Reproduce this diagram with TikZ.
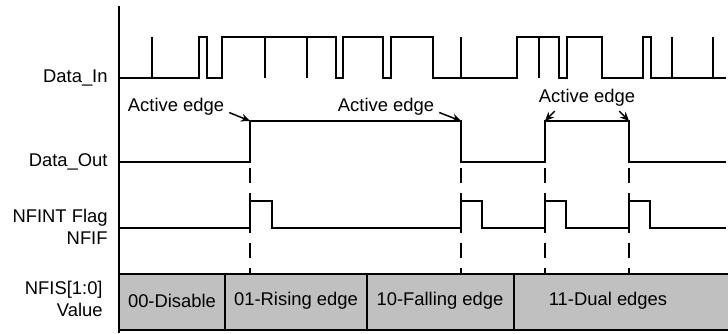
\documentclass[tikz,border=0pt]{standalone}
\usepackage{fontspec}
\setmainfont{Liberation Sans}
\usepackage{xcolor}
\definecolor{cLine}{HTML}{000000}
\definecolor{cFill}{HTML}{C0C0C0}
\usepackage{tikz}
\usetikzlibrary{arrows.meta}
\newcommand{\sigfont}{\fontsize{9.2}{11}\selectfont}
\tikzset{
  sig-line/.style={draw=cLine,line width=1pt,line join=miter},
  axis-line/.style={draw=cLine,line width=1pt},
  edge-mark/.style={draw=cLine,line width=1pt,
    dash pattern=on 7.5pt off 5pt,dash phase=9.5pt},
  seg-box/.style={draw=cLine,line width=1pt,fill=cFill},
  seg-text/.style={font=\sigfont,inner sep=1pt},
  sig-name/.style={anchor=east,align=right,inner sep=0pt,font=\sigfont},
  note/.style={font=\sigfont,inner sep=1pt},
  arrow/.style={-{Stealth[length=4.5pt,width=4pt]},line width=0.75pt,
    draw=cLine,shorten <=1.5pt},
}

\begin{document}
\begin{tikzpicture}[x=0.5pt,y=-0.5pt]
  \useasboundingbox (0,0) rectangle (728,333);
  % signal names
  \node[sig-name] (nIn)   at (108,78)  {Data\_In};
  \node[sig-name] (nOut)  at (108,162) {Data\_Out};
  \node[sig-name] (nFlag) at (108,227) {NFINT Flag\\NFIF};
  \node[sig-name] (nSel)  at (103,299) {NFIS[1:0]\\Value};
  \draw[axis-line] (119,6) -- (119,333);
  % Data_In
  \draw[sig-line] (119,78) -- (199,78) -- (199,37) -- (207,37) -- (207,78)
    -- (222,78) -- (222,37) -- (336,37) -- (336,78) -- (343,78) -- (343,37)
    -- (383,37) -- (383,78) -- (391,78) -- (391,37) -- (433,37) -- (433,78)
    -- (517,78) -- (517,37) -- (559,37) -- (559,78) -- (567,78) -- (567,37)
    -- (602,37) -- (602,78) -- (643,78) -- (643,37) -- (651,37) -- (651,78)
    -- (726,78);
  \foreach \x in {152,461,672,713}
    \draw[sig-line] (\x,78) -- (\x,37);
  \foreach \x in {265,307,539}
    \draw[sig-line] (\x,37) -- (\x,78);
  % Data_Out
  \draw[sig-line] (119,162) -- (250,162) -- (250,121) -- (461,121) -- (461,162)
    -- (545,162) -- (545,121) -- (629,121) -- (629,162) -- (726,162);
  \coordinate (e1) at (250,121);
  \coordinate (e2) at (461,121);
  \coordinate (e3) at (545,121);
  \coordinate (e4) at (629,121);
  \node[note] (ae1) at (176,107) {Active edge};
  \node[note] (ae2) at (386,107) {Active edge};
  \node[note] (ae3) at (587,98)  {Active edge};
  \draw[arrow] (ae1.-5) -- (e1);
  \draw[arrow] (ae2.-5) -- (e2);
  \draw[arrow] (ae3.200) -- (e3);
  \draw[arrow] (ae3.340) -- (e4);
  % edge markers
  \foreach \x in {250,461,545,629}
    \draw[edge-mark] (\x,162) -- (\x,274);
  % NFIF
  \draw[sig-line] (119,228) -- (250,228) -- (250,201) -- (272,201) -- (272,228)
    -- (461,228) -- (461,201) -- (482,201) -- (482,228)
    -- (545,228) -- (545,201) -- (566,201) -- (566,228)
    -- (629,228) -- (629,201) -- (650,201) -- (650,228) -- (726,228);
  % NFIS value
  \draw[seg-box] (119,274) rectangle (225,330);
  \draw[seg-box] (225,274) rectangle (367,330);
  \draw[seg-box] (367,274) rectangle (514,330);
  \draw[seg-box] (514,274) rectangle (740,330);
  \node[seg-text] (s0) at (172,301) {00-Disable};
  \node[seg-text] (s1) at (296,301) {01-Rising edge};
  \node[seg-text] (s2) at (440,301) {10-Falling edge};
  \node[seg-text] (s3) at (608,301) {11-Dual edges};
\end{tikzpicture}
\end{document}
